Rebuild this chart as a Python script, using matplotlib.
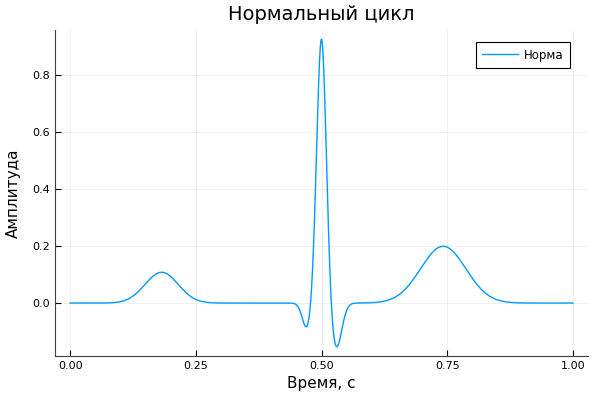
import numpy as np
import matplotlib.pyplot as plt

# ECG cycle: P, Q, R, S, T waves
wave_names = ["P", "Q", "R", "S", "T"]
wave_centers = [0.182, 0.471, 0.500, 0.529, 0.742]
wave_amps = [0.108, -0.09, 0.93, -0.16, 0.199]
wave_widths = [0.033, 0.009, 0.0095, 0.011, 0.045]

xticks = [0.0, 0.25, 0.5, 0.75, 1.0]
yticks = [0.0, 0.2, 0.4, 0.6, 0.8]

t = np.linspace(0, 1, 2001)
signal = np.zeros_like(t)
for c, a, w in zip(wave_centers, wave_amps, wave_widths):
    signal += a * np.exp(-((t - c) ** 2) / (2 * w ** 2))

fig = plt.figure(figsize=(6, 4), dpi=100)
ax = fig.add_axes([0.0917, 0.11, 0.8883, 0.815])

ax.plot(t, signal, color="#009AFA", linewidth=1, label="Норма")

lo, hi = signal.min(), signal.max()
pad = 0.03 * (hi - lo)
ax.set_ylim(lo - pad, hi + pad)
ax.set_xlim(-0.03, 1.03)

ax.set_xticks(xticks)
ax.set_xticklabels([f"{v:.2f}" for v in xticks])
ax.set_yticks(yticks)
ax.set_yticklabels([f"{v:.1f}" for v in yticks])
ax.tick_params(direction="in", length=4, labelsize=8, colors="#000000")
ax.grid(True, color="#000000", alpha=0.08, linewidth=0.5)

for s in ["top", "right"]:
    ax.spines[s].set_visible(False)
for s in ["left", "bottom"]:
    ax.spines[s].set_color("#404040")

ax.set_title("Нормальный цикл", fontsize=14, pad=7)
ax.set_xlabel("Время, с", fontsize=11)
ax.set_ylabel("Амплитуда", fontsize=11, labelpad=8.5)

leg = ax.legend(loc="upper right", fontsize=8.5, fancybox=False, framealpha=1,
                edgecolor="#000000", handlelength=3.0, handletextpad=0.5,
                borderpad=0.55, borderaxespad=0,
                bbox_to_anchor=(0.966, 0.963))
leg.get_frame().set_linewidth(0.8)

fig.savefig("out.png", dpi=100)
